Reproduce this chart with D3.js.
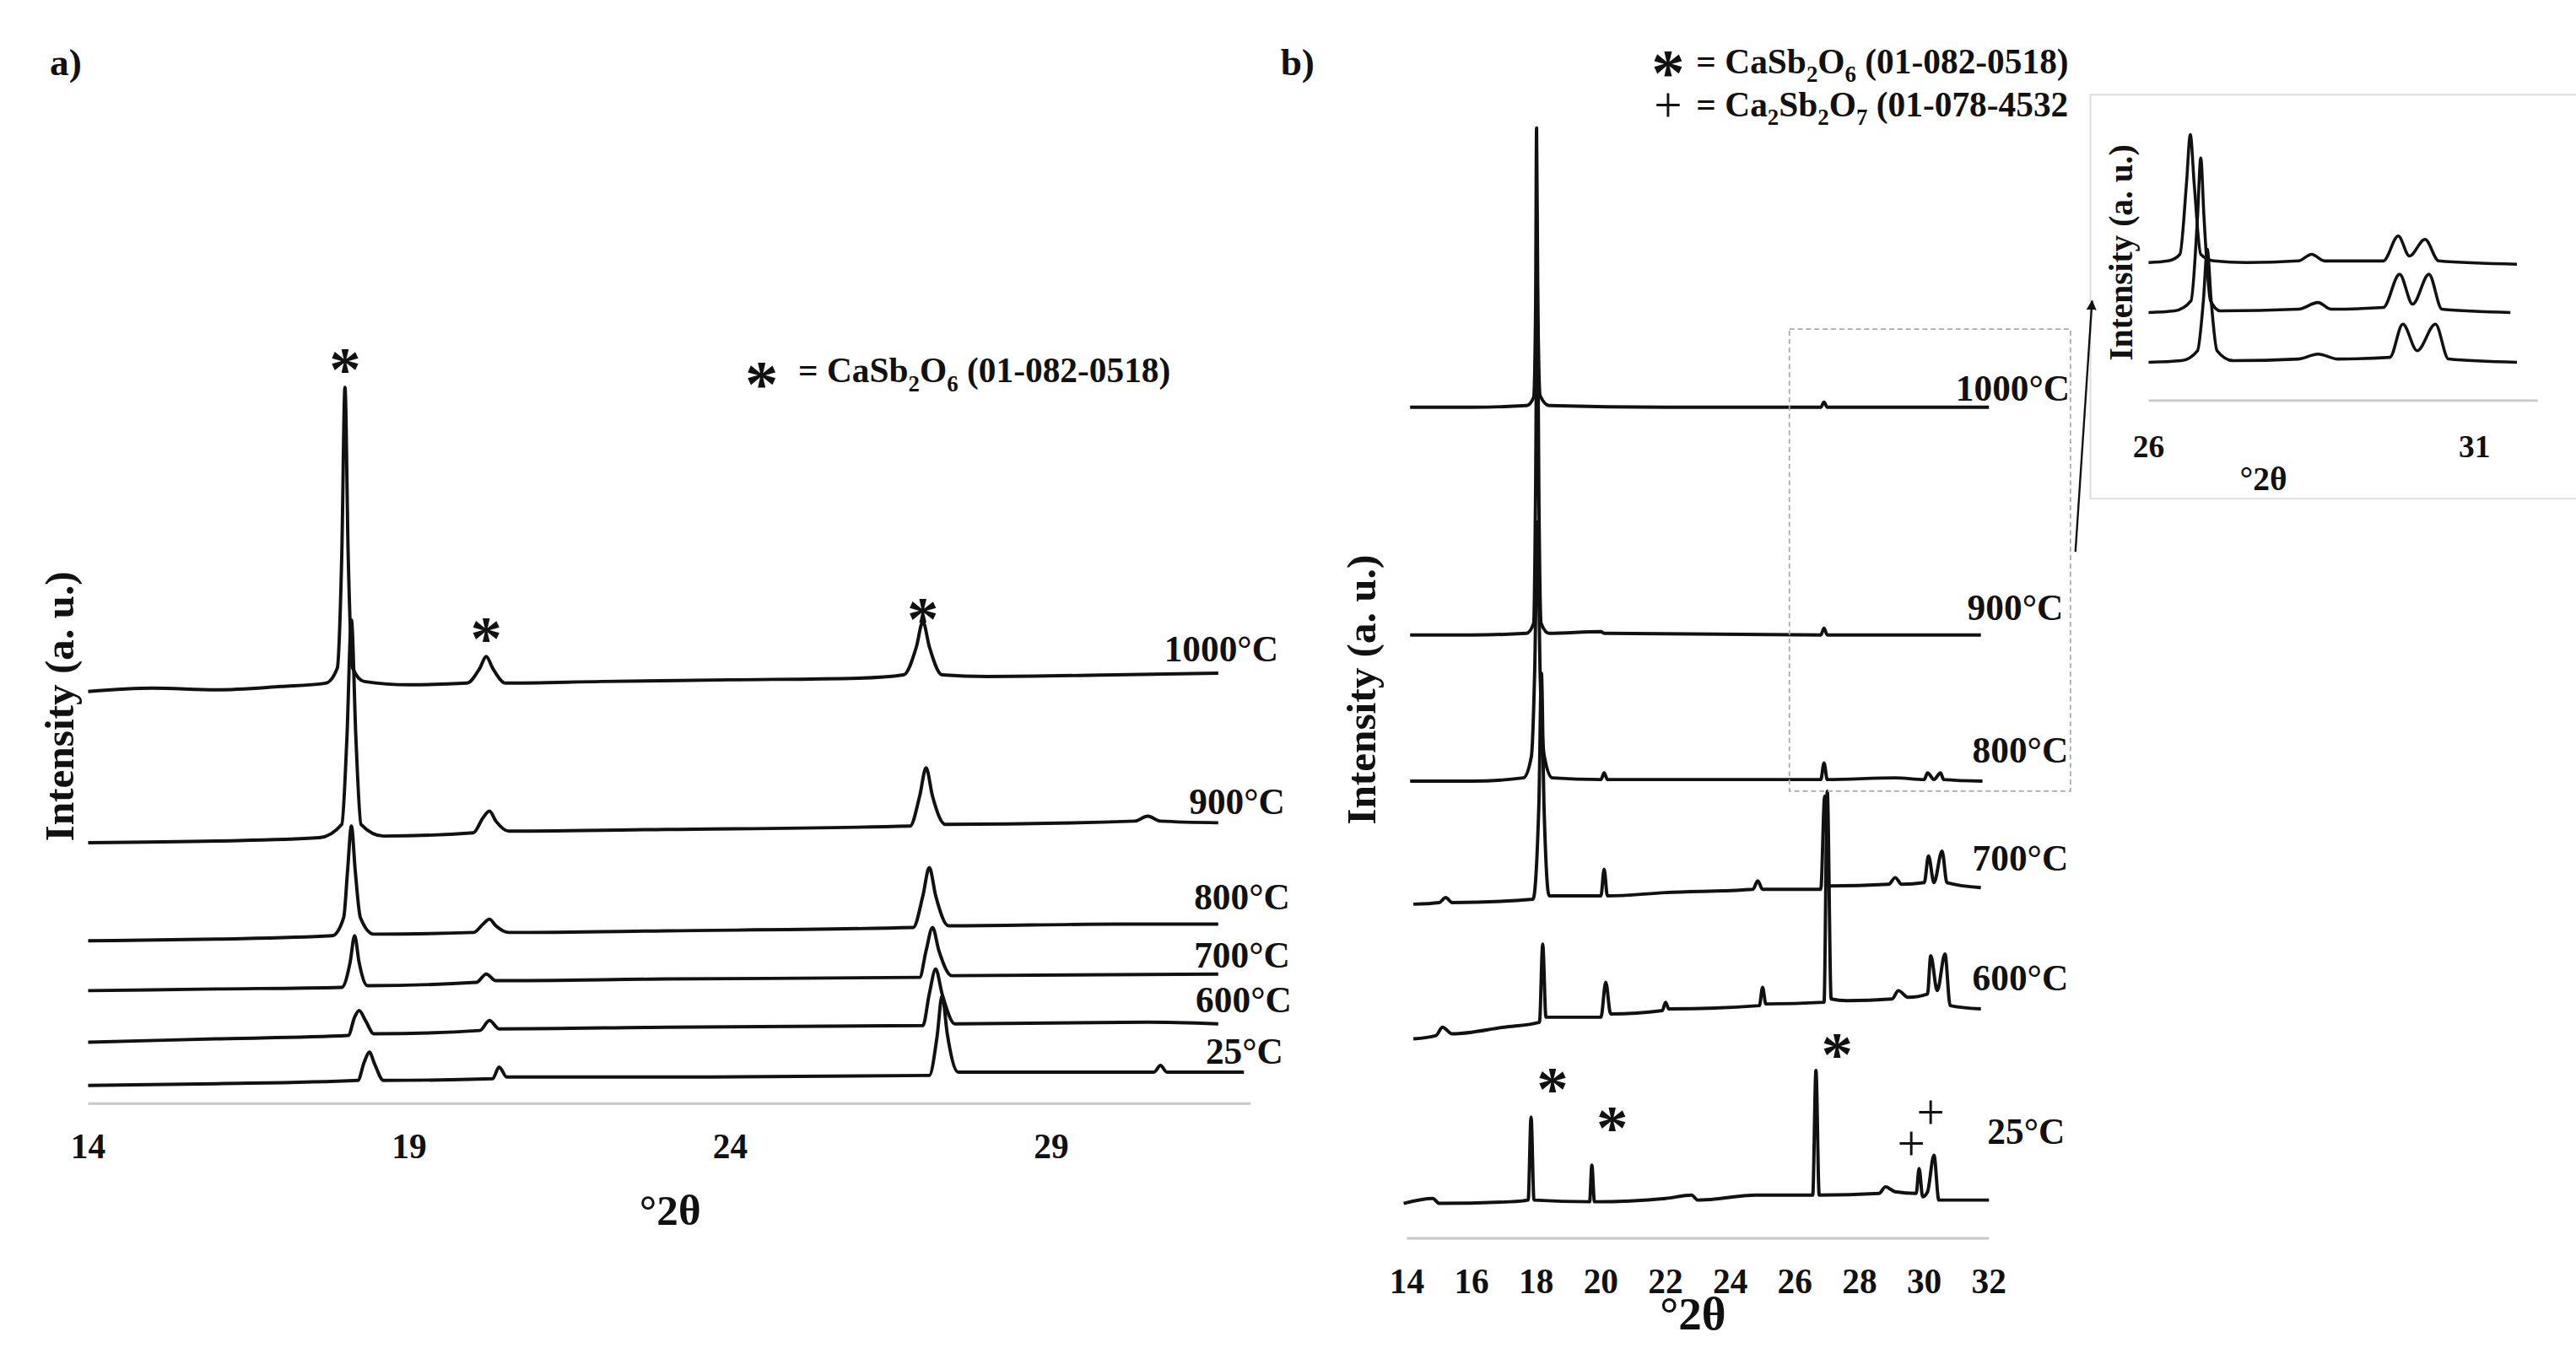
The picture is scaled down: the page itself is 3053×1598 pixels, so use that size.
<!DOCTYPE html>
<html>
<head>
<meta charset="utf-8">
<script src="https://cdn.jsdelivr.net/npm/d3@7"></script>
<style>
  body { margin: 0; background: #fff; }
  text { font-family: "Liberation Serif", "Times New Roman", serif; font-weight: bold; fill: #111; }
</style>
</head>
<body>
<svg id="fig" width="3053" height="1598" viewBox="0 0 1549 811" preserveAspectRatio="none"></svg>
<script>
'use strict';

// ---- panel a data: [2theta, intensity (a.u., stacked offset included)]
var labelsA = ['1000°C', '900°C', '800°C', '700°C', '600°C', '25°C'];
var a1000 = [[14,248],[15,250],[16,249],[17,251],[17.7,253],[17.88,262],[17.95,330],[18.0,431],[18.05,330],[18.12,262],[18.3,254],[19,252],[19.9,253],[20.1,262],[20.2,269],[20.3,262],[20.5,253],[22,254],[24,255],[26,256],[26.7,258],[26.9,275],[27.0,290],[27.1,275],[27.3,258],[28,257],[30,258],[31.6,259]];
var a900 = [[14,157],[16,158],[17.6,160],[17.95,168],[18.03,220],[18.1,291],[18.17,220],[18.25,168],[18.6,161],[20,163],[20.15,172],[20.25,176],[20.35,170],[20.55,164],[23,165],[26.8,167],[26.95,185],[27.05,202],[27.15,185],[27.35,168],[30.3,170],[30.5,173],[30.7,170],[31.6,169]];
var a800 = [[14,98],[16,99],[17.8,101],[17.98,112],[18.04,140],[18.1,167],[18.16,140],[18.24,112],[18.45,102],[20,103],[20.15,108],[20.25,111],[20.35,107],[20.55,103],[23,104],[26.85,106],[27.0,125],[27.1,142],[27.2,125],[27.4,107],[30,108],[31.6,108]];
var a700 = [[14,68],[16,69],[17.95,70],[18.08,85],[18.15,101],[18.22,85],[18.35,71],[20.05,73],[20.2,78],[20.35,74],[23,75],[26.95,76],[27.05,92],[27.15,106],[27.25,92],[27.45,77],[31.6,78]];
var a600 = [[14,37],[16,39],[18.05,41],[18.15,52],[18.22,56],[18.32,50],[18.45,42],[20.1,44],[20.25,50],[20.4,45],[23,46],[27.0,47],[27.1,66],[27.2,81],[27.3,66],[27.5,48],[30.5,49],[31.6,48]];
var a25 = [[14,11],[16,12],[18.2,14],[18.3,25],[18.38,31],[18.46,24],[18.6,14],[20.3,15],[20.4,22],[20.52,16],[23,16],[27.1,17],[27.22,40],[27.3,65],[27.38,42],[27.55,19],[30.6,19],[30.7,23],[30.8,19],[32,19]];
var ticksA = [14, 19, 24, 29];
var starsA = [[18.0, 451], [20.2, 289], [27.0, 301]];

// ---- panel b data
var labelsB = ['1000°C', '900°C', '800°C', '700°C', '600°C', '25°C'];
var b1000 = [[14.1,500],[16,500],[17.7,501],[17.92,506],[17.98,560],[18.01,668],[18.05,560],[18.12,507],[18.4,501],[22,500],[26.8,500],[26.9,503],[27.0,500],[32,500]];
var b900 = [[14.1,363],[16,363],[17.7,364],[17.92,370],[17.98,450],[18.03,587],[18.08,450],[18.15,370],[18.4,364],[20,365],[20.1,364],[26.8,363],[26.9,367],[27.0,363],[31.75,363]];
var b800 = [[14.1,275],[16,275],[17.6,277],[17.85,290],[17.95,340],[18.04,431],[18.12,340],[18.25,290],[18.5,277],[20.0,276],[20.1,280],[20.2,276],[24.8,276],[26.8,276],[26.9,286],[27.0,276],[29.1,277],[30.0,276],[30.1,280],[30.3,276],[30.5,280],[30.6,276],[31.8,275]];
var b700 = [[14.2,201],[15.0,202],[15.2,205],[15.4,202],[17.9,204],[18.08,260],[18.16,340],[18.24,260],[18.4,206],[20.0,206],[20.1,222],[20.2,206],[22,208],[24.7,210],[24.85,215],[25.0,210],[26.8,210],[26.92,266],[27.05,212],[28.9,213],[29.1,217],[29.3,213],[30.0,214],[30.13,230],[30.3,214],[30.55,233],[30.7,214],[31.75,211]];
var b600 = [[14.2,120],[14.9,122],[15.1,127],[15.4,123],[17,127],[18.1,130],[18.2,177],[18.3,133],[20.0,133],[20.15,154],[20.3,135],[21.9,137],[22.0,142],[22.1,138],[24.9,140],[25.0,151],[25.1,141],[26.9,142],[27.0,269],[27.12,144],[27.6,143],[29.0,144],[29.2,149],[29.5,145],[30.1,147],[30.2,170],[30.4,149],[30.64,171],[30.8,140],[31.75,138]];
var b25 = [[13.9,21],[14.8,24],[15.0,21],[17.2,22],[17.75,23],[17.84,73],[17.93,23],[19.65,22],[19.72,44],[19.8,22],[22,24],[22.8,26],[23,23],[24.8,26],[26.55,26],[26.65,101],[26.75,26],[28.6,27],[28.8,31],[29.1,28],[29.75,27],[29.84,42],[29.95,25],[30.1,28],[30.3,50],[30.45,23],[32.0,23]];
var ticksB = [14, 16, 18, 20, 22, 24, 26, 28, 30, 32];
var starsB = [[18.5, 99], [20.35, 76], [27.3, 120]];
var plusB = [[29.6, 57], [30.2, 76]];

// ---- inset data (zoom 26-31.6)
var inTop = [[26.0,83],[26.3,84],[26.48,88],[26.58,130],[26.64,160],[26.7,130],[26.8,88],[27.0,84],[27.5,83],[28.3,84],[28.5,88],[28.7,84],[29.6,84],[29.83,99],[30.0,87],[30.24,97],[30.45,84],[31.65,82]];
var inMid = [[26.0,53],[26.4,54],[26.65,60],[26.75,110],[26.8,146],[26.85,110],[26.95,60],[27.1,54],[28.3,55],[28.6,59],[28.8,55],[29.6,56],[29.85,76],[30.05,58],[30.3,76],[30.5,55],[31.55,53]];
var inBot = [[26.0,23],[26.5,24],[26.75,30],[26.84,60],[26.9,91],[26.96,60],[27.05,30],[27.3,24],[28.3,25],[28.6,28],[28.9,25],[29.7,26],[29.9,46],[30.12,30],[30.4,46],[30.6,25],[31.65,23]];
var ticksIn = [26, 31];

var svg = d3.select('#fig');

function drawPanel(opt) {
	var x = d3.scaleLinear().domain(opt.xDomain).range(opt.xRange);
	var y = d3.scaleLinear().domain([0, 100]).range([opt.y0, opt.y0 - 100]);
	var line = d3.line()
		.x(function(d) { return x(d[0]); })
		.y(function(d) { return y(d[1]); })
		.curve(d3.curveMonotoneX);
	var g = svg.append('g');

	g.append('line')
		.attr('x1', opt.xRange[0]).attr('x2', opt.axisEnd)
		.attr('y1', opt.y0).attr('y2', opt.y0)
		.attr('stroke', '#c8c8c8').attr('stroke-width', 1.5);

	g.selectAll('text.tick').data(opt.ticks).enter().append('text')
		.attr('class', 'tick')
		.attr('x', function(d) { return x(d); })
		.attr('y', opt.y0 + opt.tickDy)
		.attr('text-anchor', 'middle')
		.style('font-size', opt.tickSize + 'px')
		.text(function(d) { return d; });

	g.selectAll('path.trace').data(opt.series).enter().append('path')
		.attr('class', 'trace')
		.attr('d', line)
		.attr('fill', 'none')
		.attr('stroke', '#111')
		.attr('stroke-width', opt.stroke)
		.attr('stroke-linejoin', 'round');

	return { x: x, y: y, g: g };
}

function label(t, px, py, size, anchor, rot) {
	var el = svg.append('text')
		.attr('x', px).attr('y', py)
		.attr('text-anchor', anchor || 'start')
		.style('font-size', size + 'px');
	if (rot) el.attr('transform', 'rotate(-90,' + px + ',' + py + ')');
	return el.text(t);
}

// parts: [text, isSubscript]
function formula(px, py, size, parts) {
	var el = svg.append('text').attr('x', px).attr('y', py).style('font-size', size + 'px');
	var shifted = false;
	parts.forEach(function(p) {
		var ts = el.append('tspan').text(p[0]);
		if (p[1]) {
			ts.attr('dy', size * 0.25).style('font-size', (size * 0.65) + 'px');
			shifted = true;
		} else if (shifted) {
			ts.attr('dy', -size * 0.25);
			shifted = false;
		}
	});
}

// ---- panel a
var pa = drawPanel({
	xDomain: [14, 32], xRange: [53, 748], axisEnd: 752, y0: 664,
	ticks: ticksA, tickDy: 33, tickSize: 21, stroke: 2,
	series: [a1000, a900, a800, a700, a600, a25]
});
var labA = [[700, 398], [715, 490], [718, 547], [718, 582], [719, 609], [725, 640]];
labelsA.forEach(function(t, i) { label(t, labA[i][0], labA[i][1], 22); });
starsA.forEach(function(s) { label('*', pa.x(s[0]), pa.y(s[1]) + 22, 38, 'middle'); });
label('*', 458, 244, 40, 'middle');
formula(480, 230, 21, [['= CaSb'], ['2', 1], ['O'], ['6', 1], [' (01-082-0518)']]);
label('a)', 30, 45, 23);
label('Intensity (a. u.)', 44, 425, 25, 'middle', true);
label('°2θ', 403, 737, 26, 'middle');

// ---- panel b
var pb = drawPanel({
	xDomain: [14, 32], xRange: [846, 1196], axisEnd: 1196, y0: 745,
	ticks: ticksB, tickDy: 33, tickSize: 21, stroke: 2,
	series: [b1000, b900, b800, b700, b600, b25]
});
var labB = [[1176, 241], [1183, 373], [1186, 459], [1186, 524], [1186, 596], [1195, 688]];
labelsB.forEach(function(t, i) { label(t, labB[i][0], labB[i][1], 22); });
starsB.forEach(function(s) { label('*', pb.x(s[0]), pb.y(s[1]) + 22, 38, 'middle'); });
plusB.forEach(function(s) { label('+', pb.x(s[0]), pb.y(s[1]) + 10, 30, 'middle').style('font-weight', 'normal'); });
label('*', 1003, 57, 40, 'middle');
formula(1020, 44, 21, [['= CaSb'], ['2', 1], ['O'], ['6', 1], [' (01-082-0518)']]);
label('+', 1003, 73, 30, 'middle').style('font-weight', 'normal');
formula(1020, 70, 21, [['= Ca'], ['2', 1], ['Sb'], ['2', 1], ['O'], ['7', 1], [' (01-078-4532']]);
label('b)', 770, 45, 23);
label('Intensity (a. u.)', 827, 415, 25, 'middle', true);
label('°2θ', 1018, 800, 28, 'middle');

// zoom box
svg.append('rect')
	.attr('x', 1076).attr('y', 198).attr('width', 169).attr('height', 278)
	.attr('fill', 'none').attr('stroke', '#aaa').attr('stroke-width', 0.9)
	.attr('stroke-dasharray', '3,2');

// ---- inset
svg.append('path')
	.attr('d', 'M1549,57H1257V300H1549')
	.attr('fill', 'none').attr('stroke', '#ddd').attr('stroke-width', 1);
var pi = drawPanel({
	xDomain: [26, 31], xRange: [1292, 1488], axisEnd: 1526, y0: 241,
	ticks: ticksIn, tickDy: 34, tickSize: 19, stroke: 1.8,
	series: [inTop, inMid, inBot]
});
label('Intensity (a. u.)', 1282, 152, 20, 'middle', true);
label('°2θ', 1361, 295, 20, 'middle');

// arrow
svg.append('defs').append('marker')
	.attr('id', 'ah').attr('viewBox', '0 0 10 10').attr('refX', 9).attr('refY', 5)
	.attr('markerWidth', 5).attr('markerHeight', 5).attr('orient', 'auto')
	.append('path').attr('d', 'M0,0L10,5L0,10Z').attr('fill', '#111');
svg.append('line')
	.attr('x1', 1248).attr('y1', 332).attr('x2', 1258).attr('y2', 181)
	.attr('stroke', '#111').attr('stroke-width', 1.2)
	.attr('marker-end', 'url(#ah)');
</script>
</body>
</html>
